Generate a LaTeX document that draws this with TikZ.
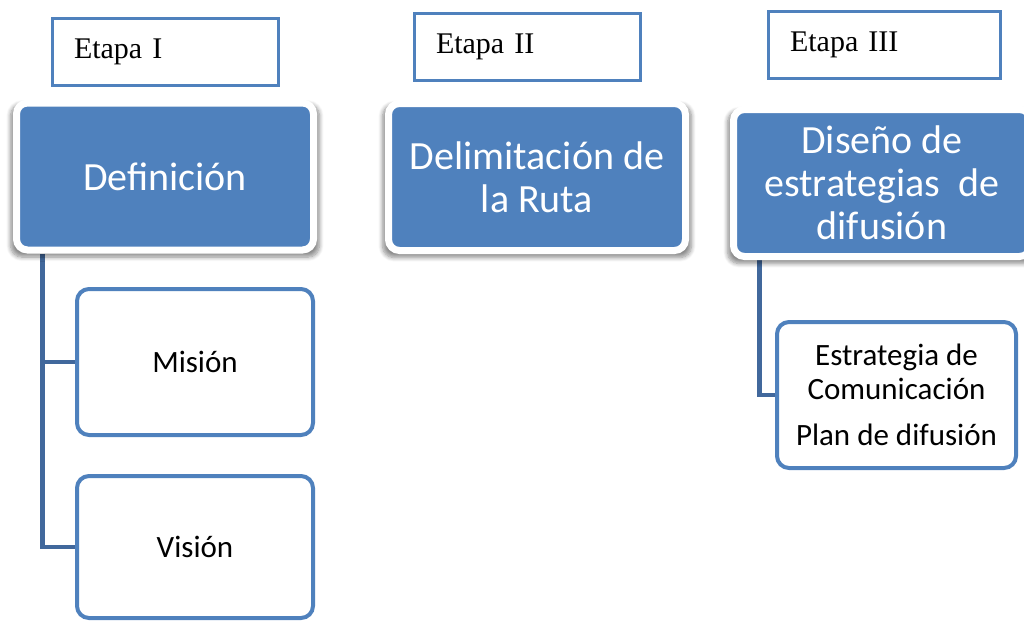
\documentclass[tikz,border=0pt]{standalone}
\usepackage{fontspec}
\setmainfont{Carlito}
\newfontfamily\etapafont{Liberation Serif}
\usetikzlibrary{shadows,shadows.blur,backgrounds}

\definecolor{azul}{HTML}{4F81BD}
\definecolor{azulosc}{HTML}{41689C}

\begin{document}
\begin{tikzpicture}[x=1pt, y=-1pt,
	etapa/.style={draw=azul, line width=3pt, fill=white, inner xsep=22pt, inner ysep=0pt,
		text width=182pt, align=left, minimum height=67pt,
		font=\etapafont\fontsize{30}{34}\selectfont},
	fase/.style={fill=azul, draw=white, line width=7pt, rounded corners=11pt,
		minimum width=297pt, minimum height=147pt, align=center, text=white,
		font=\fontsize{40}{43}\selectfont,
		blur shadow={shadow xshift=0pt, shadow yshift=-4pt, shadow scale=1.04,
			shadow blur steps=8, shadow blur radius=4pt, shadow opacity=45}},
	tarea/.style={fill=white, draw=azul, line width=4pt, rounded corners=12pt,
		minimum height=146pt, align=center, font=\fontsize{31}{34}\selectfont},
	conector/.style={draw=azulosc, line width=4.5pt}]
	      	\useasboundingbox (0,0) rectangle (1024,621);
	      	\node[etapa] (E1) at (165,52) {Etapa I};
	      	\node[etapa] (E2) at (527,46.5) {Etapa II};
	      	\node[etapa, text width=188pt] (E3) at (884,45) {Etapa III};
	      	\node[fase] (def) at (165,176.5) {Definición};
	      	\node[fase] (del) at (537,177) {Delimitación de\\la Ruta};
	      	\node[fase] (dis) at (882,183) {Diseño de\\estrategias\ \ de\\difusión};
	      	\node[tarea, minimum width=236pt] (mis) at (195,362) {Misión};
	      	\node[tarea, minimum width=236pt, minimum height=142pt] (vis) at (195,547) {Visión};
	      	\node[tarea, minimum width=239pt] (est) at (896.5,395) {Estrategia de\\Comunicación\\[12pt]Plan de difusión};
	      	\begin{scope}[on background layer]
	      	\draw[conector] ([xshift=29.5pt]def.south west) |- (mis.west);
	      	\draw[conector] ([xshift=29.5pt]def.south west) |- (vis.west);
	      	\draw[conector] ([xshift=29.5pt]dis.south west) |- (est.west);
	      	\end{scope}
	      \end{tikzpicture}
\end{document}
